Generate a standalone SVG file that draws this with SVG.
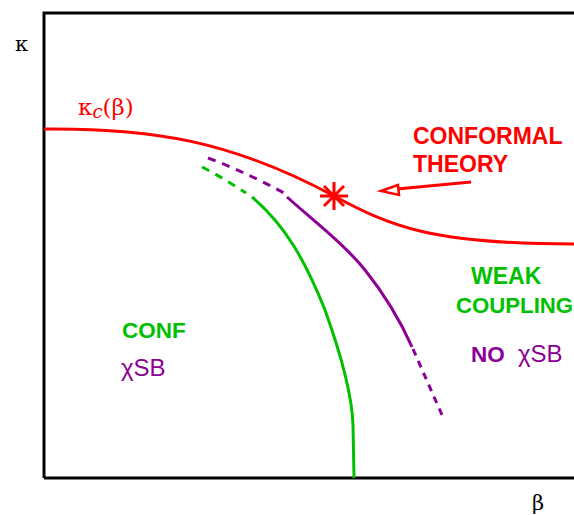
<svg xmlns="http://www.w3.org/2000/svg" width="574" height="515" viewBox="0 0 574 515">
<style>
.ax{fill:none;stroke:#000;stroke-width:3}
.red{fill:none;stroke:#FF0000;stroke-width:3}
.pur{fill:none;stroke:#8C0096;stroke-width:3}
.grn{fill:none;stroke:#00C000;stroke-width:3}
.dash{stroke-dasharray:8,7}
.lbl{font-family:"Liberation Sans",Arial,sans-serif;font-size:23px;font-weight:bold}
.sm{font-size:22.5px}
.cp{font-size:22.2px}
.sym{font-family:"DejaVu Serif","Liberation Serif",serif;font-size:21px}
.kc{font-size:23px}
.reg{font-family:"Liberation Sans",Arial,sans-serif;font-size:24px}
</style>
<rect width="574" height="515" fill="#fff"/>
<g id="axes">
<path class="ax" d="M44,478 V13 H574 M44,478 H574"/>
<text class="sym" x="15" y="51">κ</text>
<text class="sym" x="532" y="510">β</text>
</g>
<g id="connectors">
<path class="red" d="M44,129 C150,128 230,140 334,196 C390,226 430,244 574,244"/>
<path class="pur dash" d="M208,158 C235,168 260,180 284,193"/>
<path class="pur" d="M287,197 C315,222 345,245 365,270 C385,295 400,320 412,347"/>
<path class="pur" stroke-dasharray="7,6" d="M413,349 L442,415"/>
<path class="grn dash" d="M202,167 C218,175 232,184 246,193"/>
<path class="grn" d="M252,197 C285,225 305,260 325,310 C343,360 352,395 353,425 L354,478"/>
<line class="red" x1="471" y1="182" x2="397" y2="189"/>
<path d="M381,191 L398,185 L399,195 Z" fill="#fff" stroke="#FF0000" stroke-width="2.5"/>
</g>
<g id="critical-point">
<path class="red" d="M320,196 H348 M334,182 V210 M324,186 L344,206 M324,206 L344,186"/>
</g>
<g id="kappa-c">
<text class="sym kc" x="78" y="115" fill="#FF0000">κ<tspan font-style="italic" style="font-size:18px" dy="3">c</tspan><tspan dy="-3">(β)</tspan></text>
</g>
<g id="conformal-theory">
<text class="lbl" fill="#FF0000" x="413" y="144">CONFORMAL</text>
<text class="lbl" fill="#FF0000" x="413" y="172">THEORY</text>
</g>
<g id="conf-region">
<text class="lbl sm" fill="#00C000" x="122" y="338">CONF</text>
<text class="reg" fill="#8C0096" x="121" y="376">χSB</text>
</g>
<g id="weak-region">
<text class="lbl" fill="#00C000" x="471" y="284">WEAK</text>
<text class="lbl cp" fill="#00C000" x="456" y="313">COUPLING</text>
<text class="lbl sm" fill="#8C0096" x="471" y="362">NO</text>
<text class="reg" fill="#8C0096" x="518" y="362">χSB</text>
</g>
</svg>
